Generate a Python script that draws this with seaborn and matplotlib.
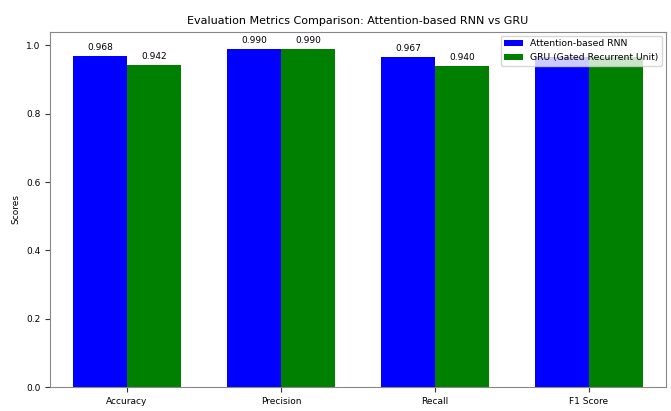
import matplotlib

matplotlib.use("Agg")

import matplotlib.pyplot as plt
import pandas as pd
import seaborn as sns

metric_names = ["Accuracy", "Precision", "Recall", "F1 Score"]
model_names = ["Attention-based RNN", "GRU (Gated Recurrent Unit)"]
rnn_scores = [0.968, 0.990, 0.967, 0.967]
gru_scores = [0.942, 0.990, 0.940, 0.965]

df = pd.DataFrame({
    "Metrics": metric_names * 2,
    "Scores": rnn_scores + gru_scores,
    "Model": [model_names[0]] * 4 + [model_names[1]] * 4,
})

fig, ax = plt.subplots(figsize=(6.71, 4.11), dpi=100)
fig.subplots_adjust(left=50 / 671, right=666 / 671, top=1 - 32 / 411, bottom=1 - 387 / 411)

sns.barplot(
    data=df, x="Metrics", y="Scores", hue="Model",
    palette=["blue", "green"], saturation=1, width=0.7,
    linewidth=0, errorbar=None, ax=ax,
)

# the F1 labels sit behind the legend in the original, so only the first three are drawn
for container in ax.containers:
    labels = [f"{b.get_height():.3f}" for b in container]
    labels[-1] = ""
    ax.bar_label(container, labels=labels, fontsize=6.5, padding=3)

ax.set_title("Evaluation Metrics Comparison: Attention-based RNN vs GRU", fontsize=8)
ax.set_xlabel("Metrics", fontsize=6.5)
ax.set_ylabel("Scores", fontsize=6.5)
ax.yaxis.set_label_coords(-30 / 616, 0.5)
ax.tick_params(labelsize=6.5, colors="#333333", labelcolor="black")
for spine in ax.spines.values():
    spine.set_color("#888888")
ax.legend(loc="upper right", fontsize=6.7, framealpha=0.8, borderaxespad=0.4)

fig.savefig("out.png", dpi=100)
